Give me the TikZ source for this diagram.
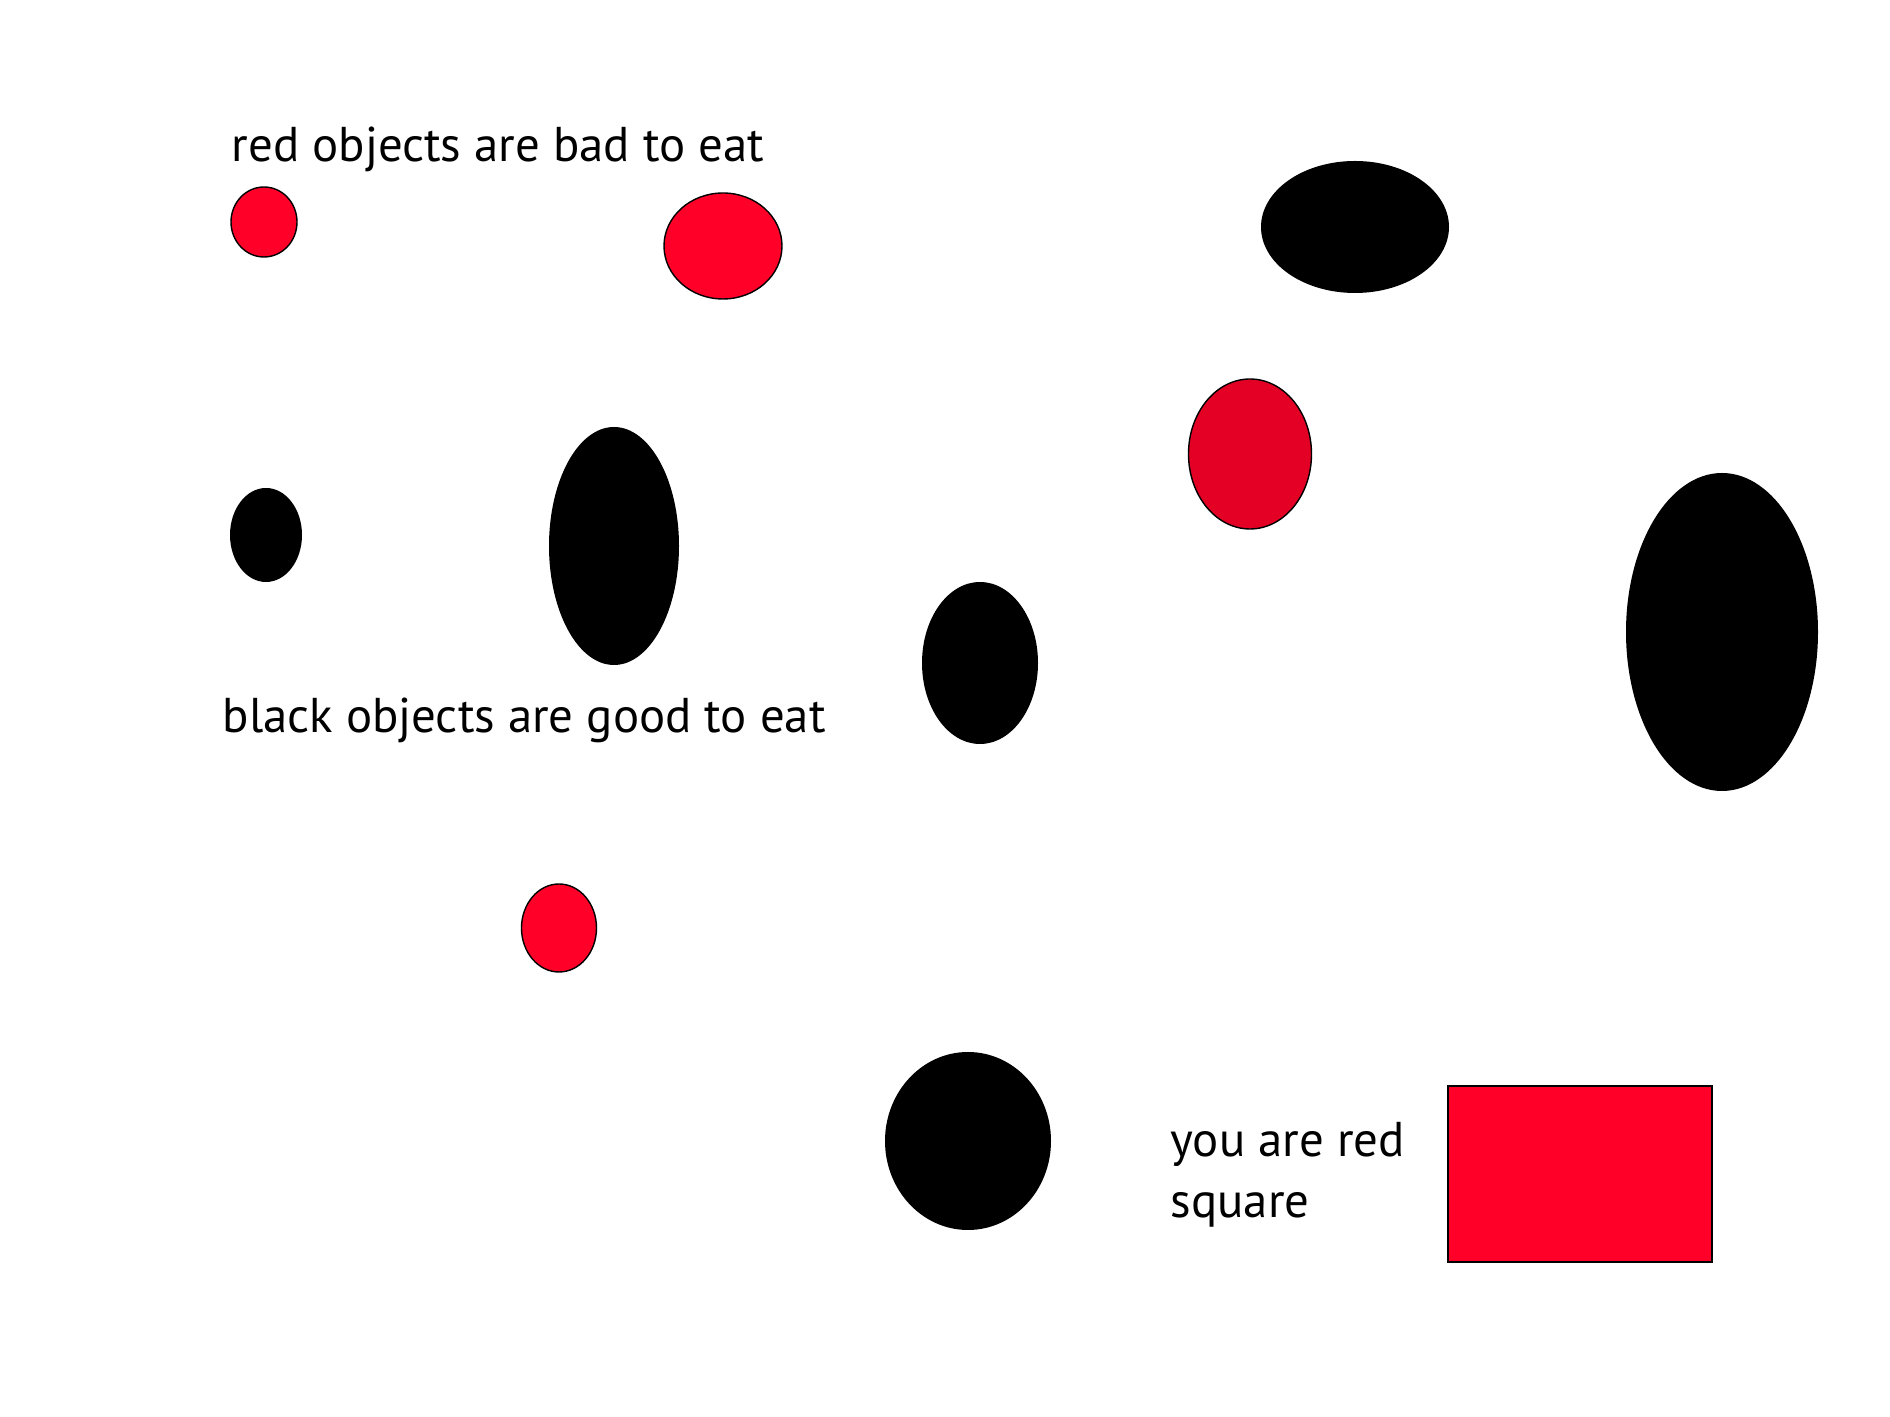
\documentclass[tikz,border=0pt]{standalone}
\usepackage{fontspec}
\setmainfont{PT Sans}
\usepackage{tikz}
\usetikzlibrary{positioning}
\definecolor{badred}{HTML}{FF0028}
\definecolor{darkred}{HTML}{E30024}

\begin{document}
\begin{tikzpicture}[
      label text/.style={font=\fontsize{13.9}{17.4}\selectfont, inner sep=0pt, anchor=base west},
      bad/.style={fill=badred, draw=black, line width=0.4pt},
      good/.style={fill=black},
    ]
    \useasboundingbox (0,0) rectangle (18.9,14.17);

    % Labels
    \node[label text] (redrule) at (2.31, 12.55) {red objects are bad to eat};
    \node[label text] (blackrule) at (2.22, 6.84) {black objects are good to eat};
    \node[label text] (you) at (11.70, 2.60) {you are red};
    \node[label text] (square) at (11.70, 1.99) {square};

    % Red objects
    \foreach \x/\y/\rx/\ry in {2.64/11.95/0.33/0.35, 7.23/11.71/0.59/0.53, 5.59/4.89/0.375/0.44}
      \draw[bad] (\x, \y) ellipse [x radius=\rx, y radius=\ry];
    \draw[bad, fill=darkred] (12.50, 9.63) ellipse [x radius=0.615, y radius=0.75];

    % Black objects
    \foreach \x/\y/\rx/\ry in {13.55/11.90/0.94/0.66, 2.66/8.82/0.36/0.47,
        6.14/8.71/0.65/1.19, 9.80/7.54/0.58/0.81, 17.22/7.85/0.96/1.59,
        9.68/2.76/0.83/0.89}
      \fill[good] (\x, \y) ellipse [x radius=\rx, y radius=\ry];

    % The player
    \draw[bad] (14.48, 1.55) rectangle (17.12, 3.31);
  \end{tikzpicture}
\end{document}
